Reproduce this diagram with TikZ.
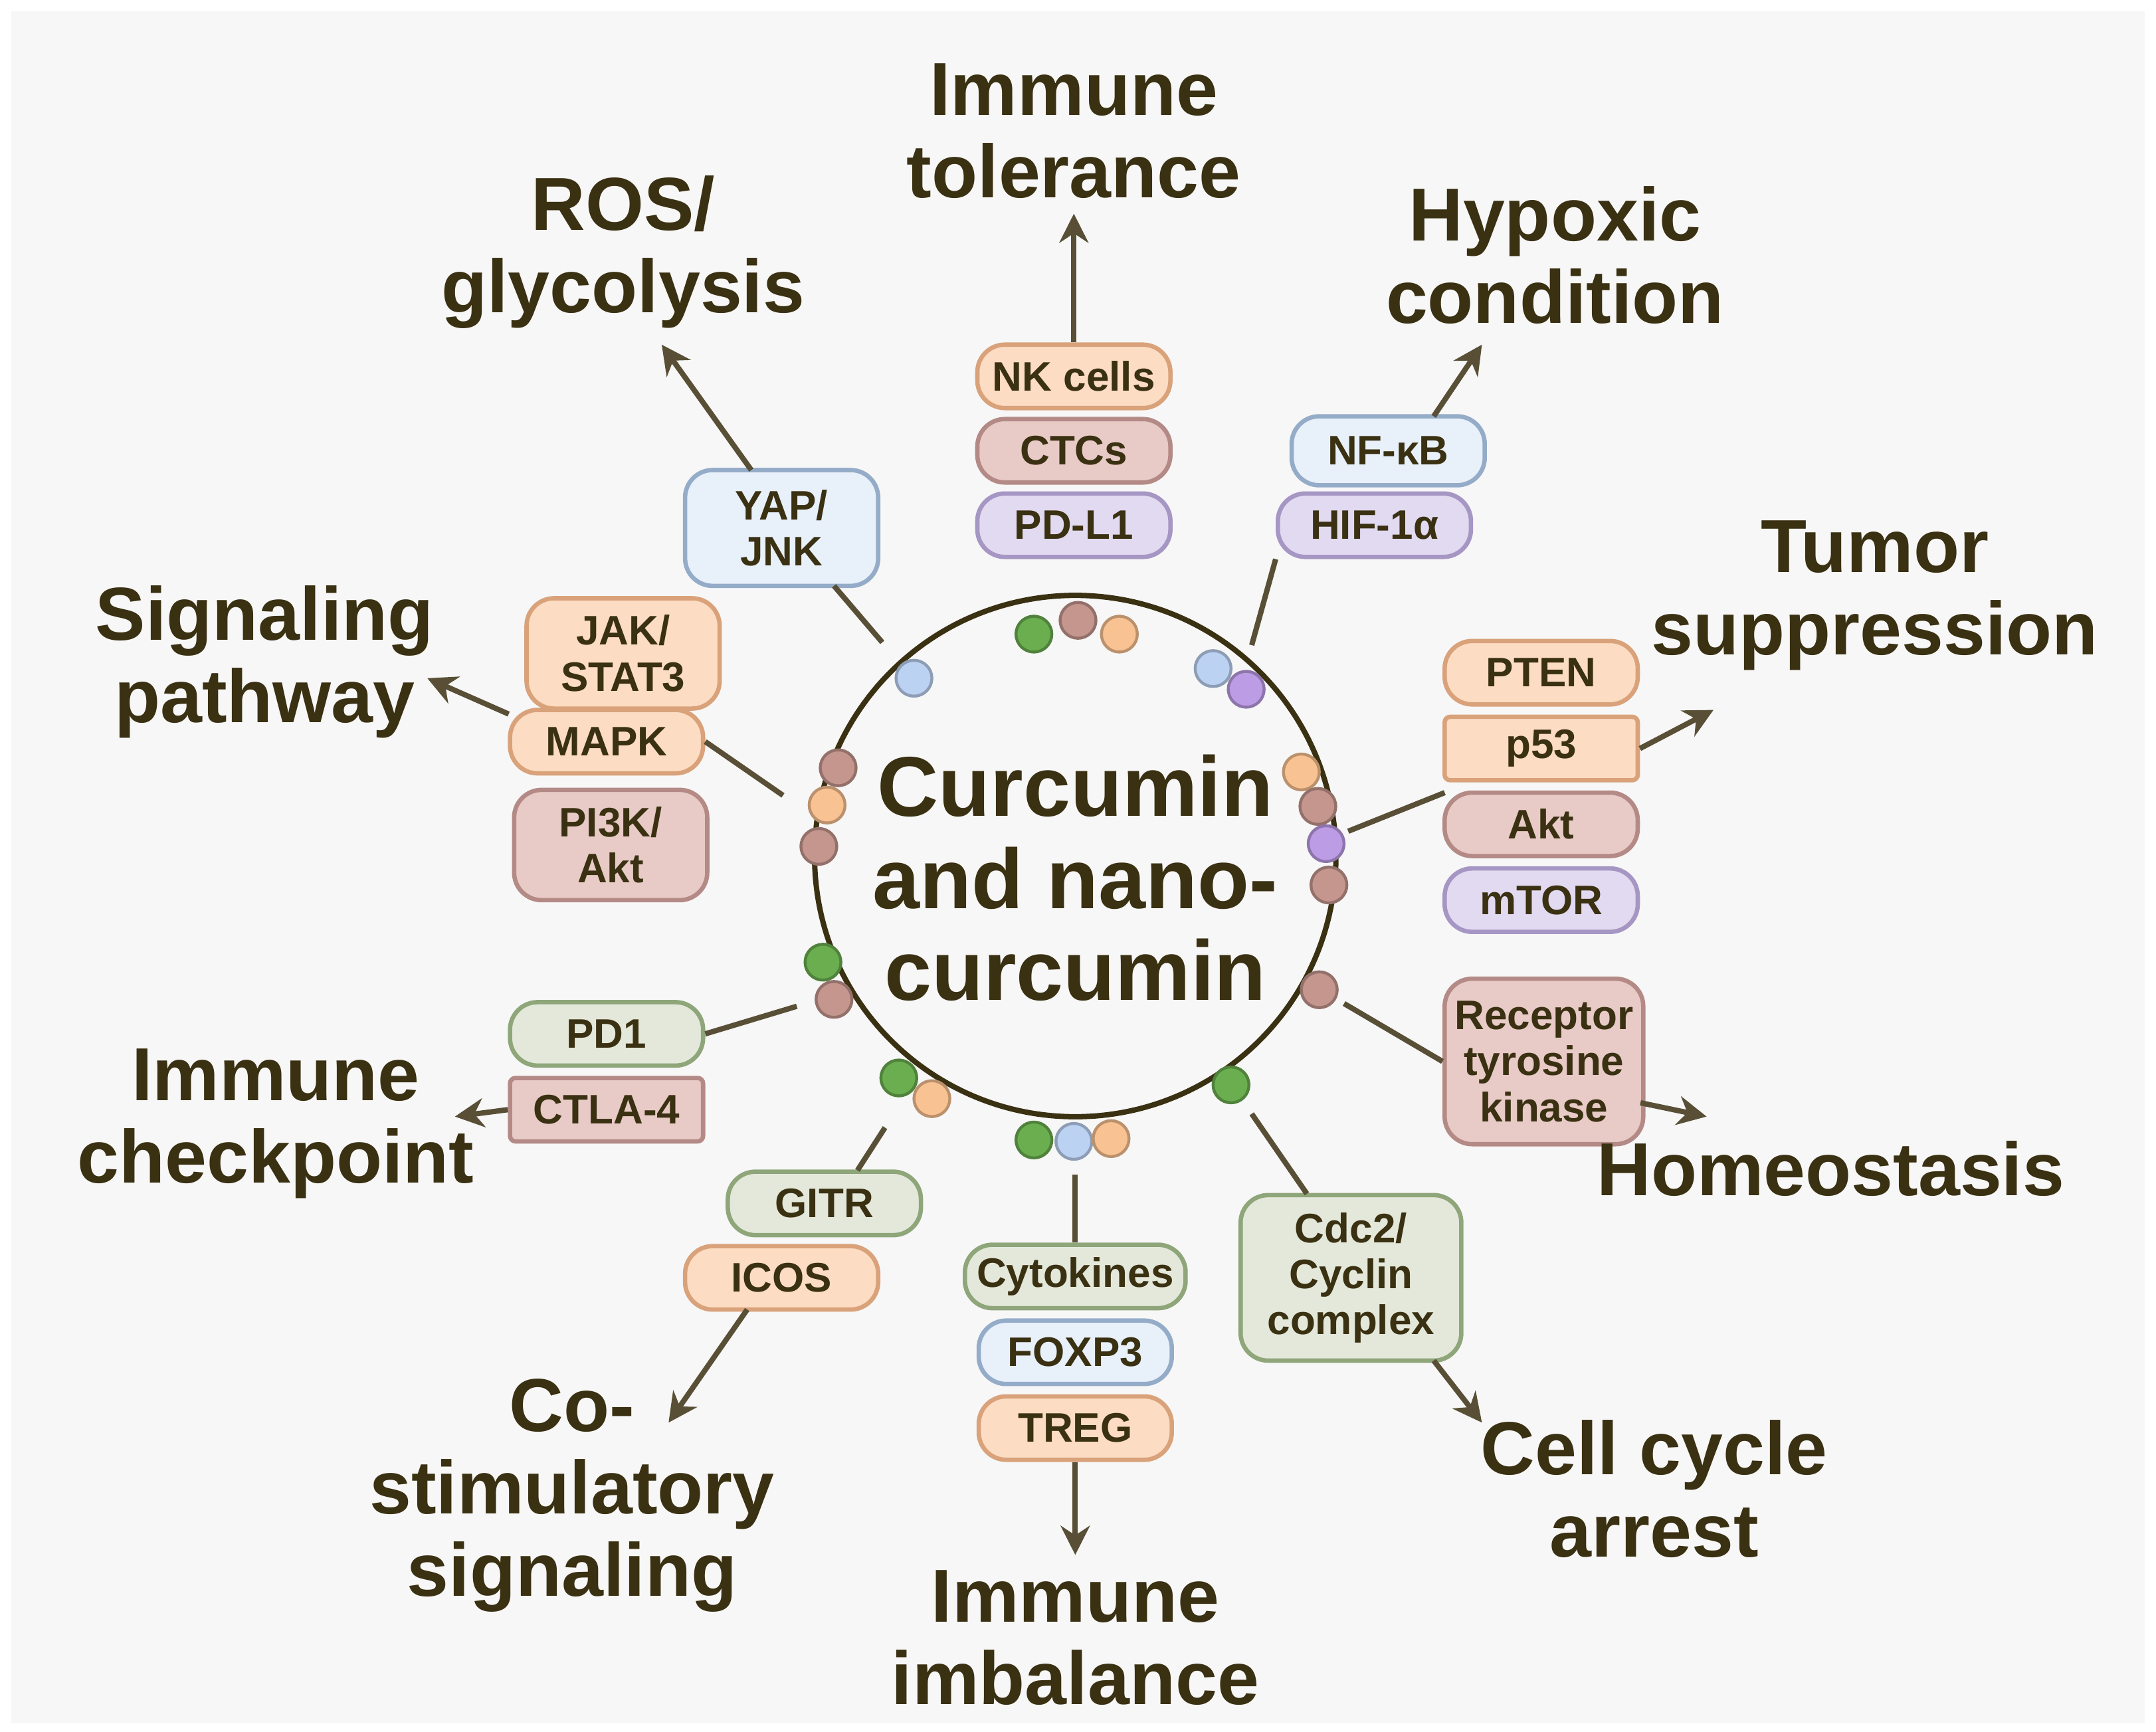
\documentclass[tikz,border=0pt]{standalone}
\usepackage{fontspec}
\setmainfont{Liberation Sans}
\usetikzlibrary{arrows.meta}
\definecolor{txt}{HTML}{3A3012}
\definecolor{peF}{HTML}{FCDCC2}\definecolor{peD}{HTML}{D9A27A}
\definecolor{roF}{HTML}{E8CAC6}\definecolor{roD}{HTML}{B48A86}
\definecolor{laF}{HTML}{E2DAF0}\definecolor{laD}{HTML}{A696C4}
\definecolor{blF}{HTML}{E8F0FA}\definecolor{blD}{HTML}{94ACC8}
\definecolor{saF}{HTML}{E4E8DA}\definecolor{saD}{HTML}{8EA67A}
\definecolor{dG}{HTML}{6AAE50}\definecolor{dR}{HTML}{C4968E}\definecolor{dP}{HTML}{F9C292}
\definecolor{dB}{HTML}{BCD2F2}\definecolor{dV}{HTML}{BC9CE4}
\tikzset{
 pill/.style={draw=#1D, fill=#1F, line width=0.9pt, rounded corners=0.2cm, minimum width=1.4cm, minimum height=0.46cm, inner sep=1pt, text=txt, font=\fontsize{8.5}{9.5}\selectfont\bfseries, align=center},
 sq/.style={rounded corners=0.04cm},
 lab/.style={text=txt, font=\fontsize{15.5}{17}\selectfont\bfseries, align=center},
 dot/.style={circle, draw=#1!75!black, fill=#1, line width=0.6pt, minimum size=0.26cm, inner sep=0pt},
 con/.style={draw=txt!85, line width=1.1pt},
 arr/.style={con, -{Stealth[length=6pt,width=6pt]}},
}
\begin{document}
\begin{tikzpicture}[x=0.01cm,y=-0.01cm]
\fill[white] (0,0) rectangle (1564,1256);
\fill[black!3] (8,8) rectangle (1556,1250);
\useasboundingbox (0,0) rectangle (1564,1256);
\node[draw=txt, line width=1.1pt, circle, minimum size=3.78cm] (ring) at (780,621) {};
\node[font=\fontsize{17.5}{19}\selectfont\bfseries, text=txt, align=center] (center) at (780,637) {Curcumin\\and nano-\\curcumin};
% dots
\foreach \x/\y/\c/\n in {750/460/dG/d1,782/450/dR/d2,812/460/dP/d3,663/492/dB/d4,880/485/dB/d5,904/500/dV/d6,
944/560/dP/d7,956/585/dR/d8,962/612/dV/d9,964/642/dR/d10,608/557/dR/d11,600/584/dP/d12,594/614/dR/d13,
597/698/dG/d14,605/725/dR/d15,957/718/dR/d16,893/787/dG/d17,652/782/dG/d18,676/797/dP/d19,750/827/dG/d20,779/828/dB/d21,806/826/dP/d22}
 \node[dot=\c] (\n) at (\x,\y) {};
% top
\node[pill=pe] (nk) at (779,273) {NK cells};
\node[pill=ro] (ctc) at (779,327) {CTCs};
\node[pill=la] (pdl1) at (779,381) {PD-L1};
\node[lab] (tol) at (779,95) {Immune\\tolerance};
\draw[arr] (nk.north) -- (779,155);
% hypoxic
\node[pill=bl, minimum height=0.5cm] (nfkb) at (1007,327) {NF-κB};
\node[pill=la] (hif) at (997,381) {HIF-1α};
\node[lab] (hyp) at (1128,185) {Hypoxic\\condition};
\draw[con] (908,468) -- (hif.south west);
\draw[arr] (1040,302) -- (1075,250);
% ROS
\node[pill=bl, minimum height=0.84cm] (yap) at (567,383) {YAP/\\JNK};
\node[lab] (ros) at (452,183) {ROS/\\glycolysis};
\draw[con] (640,466) -- (605,425);
\draw[arr] (545,341) -- (480,250);
% signaling
\node[pill=pe, minimum height=0.8cm] (jak) at (452,474) {JAK/\\STAT3};
\node[pill=pe] (mapk) at (440,538) {MAPK};
\node[pill=ro, minimum height=0.8cm] (pi3k) at (443,613) {PI3K/\\Akt};
\node[lab] (sig) at (192,480) {Signaling\\pathway};
\draw[con] (568,577) -- (mapk.east);
\draw[arr] (369,518) -- (310,492);
% tumor
\node[pill=pe] (pten) at (1118,488) {PTEN};
\node[pill=pe, sq] (p53) at (1118,543) {p53};
\node[pill=ro] (akt) at (1118,598) {Akt};
\node[pill=la] (mtor) at (1118,653) {mTOR};
\node[lab] (tum) at (1360,432) {Tumor\\suppression};
\draw[con] (978,603) -- (1048,575);
\draw[arr] (p53.east) -- (1243,515);
% homeostasis
\node[pill=ro, minimum width=1.44cm, minimum height=1.2cm] (rtk) at (1120,770) {Receptor\\tyrosine\\kinase};
\node[lab] (hom) at (1328,848) {Homeostasis};
\draw[con] (975,728) -- (rtk.west);
\draw[arr] (1190,800) -- (1238,810);
% cell cycle
\node[pill=sa, minimum width=1.6cm, minimum height=1.2cm] (cdc) at (980,927) {Cdc2/\\Cyclin\\complex};
\node[lab] (ccy) at (1200,1080) {Cell cycle\\arrest};
\draw[con] (908,808) -- (948,866);
\draw[arr] (1040,987) -- (1075,1032);
% imbalance
\node[pill=sa, minimum width=1.6cm] (cyt) at (780,926) {Cytokines};
\node[pill=bl] (foxp3) at (780,981) {FOXP3};
\node[pill=pe] (treg) at (780,1036) {TREG};
\node[lab] (imb) at (780,1188) {Immune\\imbalance};
\draw[con] (780,852) -- (cyt.north);
\draw[arr] (treg.south) -- (780,1128);
% co-stim
\node[pill=sa] (gitr) at (598,873) {GITR};
\node[pill=pe] (icos) at (567,927) {ICOS};
\node[lab] (cos) at (415,1085) {Co-\\stimulatory\\signaling};
\draw[con] (642,818) -- (622,849);
\draw[arr] (542,950) -- (485,1032);
% checkpoint
\node[pill=sa] (pd1) at (440,750) {PD1};
\node[pill=ro, sq] (ctla) at (440,805) {CTLA-4};
\node[lab] (chk) at (200,815) {Immune\\checkpoint};
\draw[con] (578,730) -- (pd1.east);
\draw[arr] (ctla.west) -- (330,810);
\end{tikzpicture}
\end{document}
